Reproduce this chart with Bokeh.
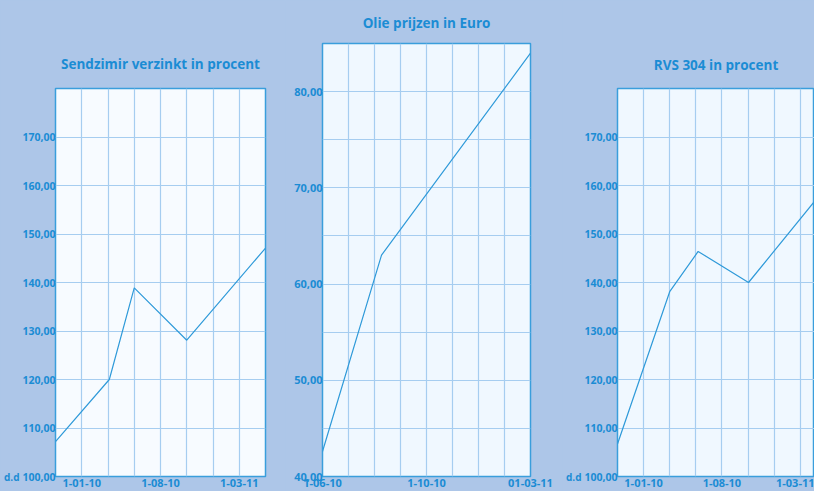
from bokeh.plotting import figure
from bokeh.layouts import row, column
from bokeh.models import FixedTicker, Range1d, LinearAxis
from bokeh.embed import file_html
from bokeh.resources import INLINE

# ---- data ----
sendzimir_x = [0, 2.05, 3, 5, 8]
sendzimir_y = [107.2, 120.0, 138.9, 128.1, 147.1]
sendzimir_xticks = [1, 4, 7]
sendzimir_xlabels = ["1-01-10", "1-08-10", "1-03-11"]

olie_x = [0, 2.27, 8]
olie_y = [42.6, 63.0, 84.0]
olie_xticks = [0, 4, 8]
olie_xlabels = ["1-06-10", "1-10-10", "01-03-11"]

rvs_x = [0, 2.0, 3.09, 5.02, 8]
rvs_y = [106.7, 138.1, 146.4, 140.0, 159.7]
rvs_xticks = [1, 4, 7]
rvs_xlabels = ["1-01-10", "1-08-10", "1-03-11"]

pct_yticks = [100, 110, 120, 130, 140, 150, 160, 170]
pct_ylabels = ["100,00", "110,00", "120,00", "130,00", "140,00", "150,00", "160,00", "170,00"]
olie_yticks = [40, 50, 60, 70, 80]
olie_ylabels = ["40,00", "50,00", "60,00", "70,00", "80,00"]
unit_label = "d.d"

# ---- styles ----
BG = "#adc6e8"
TXT = "#1b8cd4"
LINE = "#2f9ad9"
BORDER = "#3a9edc"
GRID = "#a6cdf0"
FONT = "Open Sans"


def style_axis(ax, standoff, size="11px"):
    ax.axis_line_color = None
    ax.major_tick_line_color = None
    ax.minor_tick_line_color = None
    ax.major_tick_out = 0
    ax.major_tick_in = 0
    ax.major_label_text_font = FONT
    ax.major_label_text_font_size = size
    ax.major_label_text_font_style = "bold"
    ax.major_label_text_color = TXT
    ax.major_label_standoff = standoff


def make(title, xs, ys, xticks, xlabels, yticks, ylabels, ygrid, yr, xr_end,
         width, left, right, top, plot_bg, title_standoff, ysize):
    p = figure(width=width, height=491, x_range=Range1d(0, xr_end), y_range=Range1d(*yr),
               output_backend="svg", toolbar_location=None,
               min_border_left=left, min_border_right=right,
               min_border_top=top, min_border_bottom=15)
    p.background_fill_color = plot_bg
    p.border_fill_color = BG
    p.outline_line_color = BORDER
    p.outline_line_width = 1.5

    p.title.text = title
    p.title.align = "center"
    p.title.text_font = FONT
    p.title.text_font_size = "13.5px"
    p.title.text_font_style = "bold"
    p.title.text_color = TXT
    p.title.standoff = title_standoff

    p.xaxis.ticker = FixedTicker(ticks=xticks)
    p.xaxis.major_label_overrides = {t: l for t, l in zip(xticks, xlabels)}
    p.yaxis.ticker = FixedTicker(ticks=yticks)
    p.yaxis.major_label_overrides = {t: l for t, l in zip(yticks, ylabels)}
    style_axis(p.xaxis[0], 2)
    style_axis(p.yaxis[0], 0, ysize)

    p.xgrid.ticker = FixedTicker(ticks=list(range(9)))
    p.ygrid.ticker = FixedTicker(ticks=ygrid)
    for g in (p.xgrid, p.ygrid):
        g.grid_line_color = GRID
        g.grid_line_width = 1.2

    p.line(xs, ys, line_color=LINE, line_width=1.2)
    return p


def add_unit_axis(p):
    p.extra_y_ranges = {"unit": Range1d(0, 1)}
    ax = LinearAxis(y_range_name="unit", ticker=FixedTicker(ticks=[0]),
                    major_label_overrides={0: unit_label})
    style_axis(ax, 0, "10px")
    p.add_layout(ax, "left")


p1 = make("Sendzimir verzinkt in procent", sendzimir_x, sendzimir_y,
          sendzimir_xticks, sendzimir_xlabels, pct_yticks, pct_ylabels,
          list(range(100, 181, 10)), (100, 180), 8,
          285, 55, 20, 88, "#f7fbff", 31, "10.5px")
add_unit_axis(p1)

p2 = make("Olie prijzen in Euro", olie_x, olie_y,
          olie_xticks, olie_xlabels, olie_yticks, olie_ylabels,
          list(range(40, 86, 5)), (40, 85), 8,
          277, 37, 32, 43, "#f0f8ff", 23, "11px")

p3 = make("RVS 304 in procent", rvs_x, rvs_y,
          rvs_xticks, rvs_xlabels, pct_yticks, pct_ylabels,
          list(range(100, 181, 10)), (100, 180), 197 / 26.1,
          252, 55, 0, 88, "#f0f8ff", 30, "10.5px")
add_unit_axis(p3)

layout = row(column(p1), column(p2), column(p3), styles={"background-color": BG})
open("out.html", "w").write(file_html(layout, INLINE))
